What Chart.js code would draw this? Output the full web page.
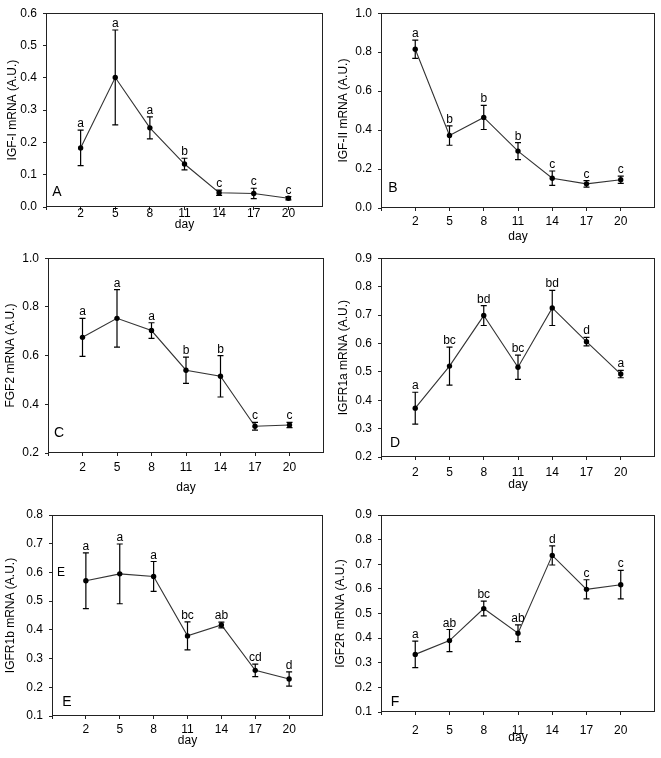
<!DOCTYPE html>
<html><head><meta charset="utf-8">
<script src="https://cdn.jsdelivr.net/npm/chart.js@4/dist/chart.umd.min.js"></script>
<style>
html,body{margin:0;padding:0;background:#fff;}
#wrap{position:relative;width:661px;height:758px;overflow:hidden;background:#fff;}
canvas{position:absolute;}
</style></head><body><div id="wrap"></div>
<script>
// ---------- data ----------
const days = [2, 5, 8, 11, 14, 17, 20];

const igf1Mean = [0.183, 0.401, 0.245, 0.133, 0.044, 0.042, 0.027];
const igf1Se   = [0.055, 0.147, 0.034, 0.018, 0.008, 0.016, 0.005];
const igf1Sig  = ['a', 'a', 'a', 'b', 'c', 'c', 'c'];

const igf2Mean = [0.815, 0.372, 0.465, 0.292, 0.153, 0.124, 0.145];
const igf2Se   = [0.047, 0.050, 0.062, 0.044, 0.037, 0.017, 0.019];
const igf2Sig  = ['a', 'b', 'b', 'b', 'c', 'c', 'c'];

const fgf2Mean = [0.675, 0.753, 0.703, 0.540, 0.515, 0.310, 0.315];
const fgf2Se   = [0.078, 0.118, 0.032, 0.054, 0.085, 0.016, 0.011];
const fgf2Sig  = ['a', 'a', 'a', 'b', 'b', 'c', 'c'];

const igfr1aMean = [0.372, 0.520, 0.698, 0.516, 0.725, 0.606, 0.492];
const igfr1aSe   = [0.056, 0.067, 0.035, 0.043, 0.062, 0.015, 0.013];
const igfr1aSig  = ['a', 'bc', 'bd', 'bc', 'bd', 'd', 'a'];

const igfr1bMean = [0.571, 0.595, 0.586, 0.379, 0.417, 0.259, 0.229];
const igfr1bSe   = [0.097, 0.104, 0.052, 0.049, 0.010, 0.022, 0.025];
const igfr1bSig  = ['a', 'a', 'a', 'bc', 'ab', 'cd', 'd'];

const igf2rMean = [0.334, 0.390, 0.520, 0.420, 0.736, 0.598, 0.617];
const igf2rSe   = [0.054, 0.045, 0.030, 0.034, 0.039, 0.039, 0.058];
const igf2rSig  = ['a', 'ab', 'bc', 'ab', 'd', 'c', 'c'];

const xTickLabels = ['2', '5', '8', '11', '14', '17', '20'];

// ---------- layout ----------
const FONT = 'Liberation Sans, Arial, sans-serif';
const panels = [
  {tag:'A', yTitle:'IGF-I mRNA (A.U.)', mean:igf1Mean, se:igf1Se, sig:igf1Sig, yMin:0, yMax:0.6, yStep:0.1,
   box:[0,0,330,245], area:[46,8,323,207], xPad:-3.2, xTitlePad:13, yTitlePad:5, tagPos:[11,15]},
  {tag:'B', yTitle:'IGF-II mRNA (A.U.)', mean:igf2Mean, se:igf2Se, sig:igf2Sig, yMin:0, yMax:1.0, yStep:0.2,
   box:[330,0,331,245], area:[381,9,655,208], xPad:3.3, xTitlePad:1, yTitlePad:6, tagPos:[12,20]},
  {tag:'C', yTitle:'FGF2 mRNA (A.U.)', mean:fgf2Mean, se:fgf2Se, sig:fgf2Sig, yMin:0.2, yMax:1.0, yStep:0.2,
   box:[0,245,330,255], area:[48,254,324,453], xPad:4.8, xTitlePad:5, yTitlePad:3, tagPos:[11,20]},
  {tag:'D', yTitle:'IGFR1a mRNA (A.U.)', mean:igfr1aMean, se:igfr1aSe, sig:igfr1aSig, yMin:0.2, yMax:0.9, yStep:0.1,
   box:[330,245,331,255], area:[381,258,655,457], xPad:5.3, xTitlePad:8, yTitlePad:6, tagPos:[14,14]},
  {tag:'E', yTitle:'IGFR1b mRNA (A.U.)', mean:igfr1bMean, se:igfr1bSe, sig:igfr1bSig, yMin:0.1, yMax:0.8, yStep:0.1,
   box:[0,500,330,258], area:[52,515,323,716], xPad:3.8, xTitlePad:10, yTitlePad:3, tagPos:[15,14], extraTag:{text:'E', value:0.6, dx:9}},
  {tag:'F', yTitle:'IGF2R mRNA (A.U.)', mean:igf2rMean, se:igf2rSe, sig:igf2rSig, yMin:0.1, yMax:0.9, yStep:0.1,
   box:[330,500,331,258], area:[381,515,655,712], xPad:8.3, xTitlePad:13, yTitlePad:3, tagPos:[14,10]}
];

const wrap = document.getElementById('wrap');

panels.forEach(p => {
  const [cx, cy, cw, ch] = p.box;
  const [L, T, R, B] = p.area;
  const cv = document.createElement('canvas');
  cv.width = cw; cv.height = ch;
  cv.style.left = cx + 'px'; cv.style.top = cy + 'px';
  cv.style.width = cw + 'px'; cv.style.height = ch + 'px';
  wrap.appendChild(cv);

  const decor = {
    id: 'decor' + p.tag,
    afterDatasetsDraw(chart) {
      const ctx = chart.ctx, a = chart.chartArea;
      const xs = chart.scales.x, ys = chart.scales.y;
      ctx.save();
      // frame
      ctx.strokeStyle = '#222'; ctx.lineWidth = 1;
      const x0 = Math.round(a.left) + 0.5, y0 = Math.round(a.top) + 0.5;
      const x1 = Math.round(a.right) - 0.5, y1 = Math.round(a.bottom) - 0.5;
      ctx.strokeRect(x0, y0, x1 - x0, y1 - y0);
      // error bars
      ctx.strokeStyle = '#000'; ctx.lineWidth = 1.2;
      days.forEach((d, i) => {
        const x = xs.getPixelForValue(d);
        const yt = ys.getPixelForValue(p.mean[i] + p.se[i]);
        const yb = ys.getPixelForValue(p.mean[i] - p.se[i]);
        ctx.beginPath();
        ctx.moveTo(x, yt); ctx.lineTo(x, yb);
        ctx.moveTo(x - 3, yt); ctx.lineTo(x + 3, yt);
        ctx.moveTo(x - 3, yb); ctx.lineTo(x + 3, yb);
        ctx.stroke();
        // significance letters
        ctx.fillStyle = '#000';
        ctx.font = '12px ' + FONT;
        ctx.textAlign = 'center'; ctx.textBaseline = 'alphabetic';
        ctx.fillText(p.sig[i], x, yt - 3);
      });
      // panel tag
      ctx.font = '14px ' + FONT;
      ctx.textAlign = 'center'; ctx.textBaseline = 'middle';
      ctx.fillText(p.tag, a.left + p.tagPos[0], a.bottom - p.tagPos[1]);
      if (p.extraTag) {
        ctx.font = '12px ' + FONT;
        ctx.fillText(p.extraTag.text, a.left + p.extraTag.dx, ys.getPixelForValue(p.extraTag.value));
      }
      ctx.restore();
    }
  };

  new Chart(cv, {
    type: 'line',
    data: {
      datasets: [{
        data: days.map((d, i) => ({x: d, y: p.mean[i]})),
        borderColor: '#333', borderWidth: 1.1, tension: 0, fill: false,
        pointRadius: 2.7, pointBackgroundColor: '#000', pointBorderColor: '#000', pointBorderWidth: 0
      }]
    },
    options: {
      responsive: false, animation: false, devicePixelRatio: 1,
      layout: {padding: {left: 0, bottom: 0, top: T - cy, right: (cx + cw) - R}},
      plugins: {legend: {display: false}, tooltip: {enabled: false}},
      scales: {
        x: {
          type: 'linear', min: -1, max: 23,
          afterBuildTicks: s => { s.ticks = s.ticks.filter(t => t.value <= 20); },
          ticks: {stepSize: 3, autoSkip: false, maxRotation: 0, padding: p.xPad, color: '#000',
                  font: {family: FONT, size: 12},
                  callback: v => { const k = days.indexOf(v); return k >= 0 ? xTickLabels[k] : ''; }},
          grid: {drawOnChartArea: false, drawTicks: true, tickLength: 3, color: '#222'},
          border: {display: false},
          title: {display: true, text: 'day', color: '#000', font: {family: FONT, size: 12},
                  padding: {top: 0, bottom: p.xTitlePad}},
          afterFit: s => { s.height = (cy + ch) - B; }
        },
        y: {
          min: p.yMin, max: p.yMax,
          ticks: {stepSize: p.yStep, padding: 6, color: '#000', font: {family: FONT, size: 12},
                  callback: v => Number(v).toFixed(1)},
          grid: {drawOnChartArea: false, drawTicks: true, tickLength: 3, color: '#222'},
          border: {display: false},
          title: {display: true, text: p.yTitle, color: '#000', font: {family: FONT, size: 12},
                  padding: {top: p.yTitlePad, bottom: 0}},
          afterFit: s => { s.width = L - cx; }
        }
      }
    },
    plugins: [decor]
  });
});
</script>
</body></html>
